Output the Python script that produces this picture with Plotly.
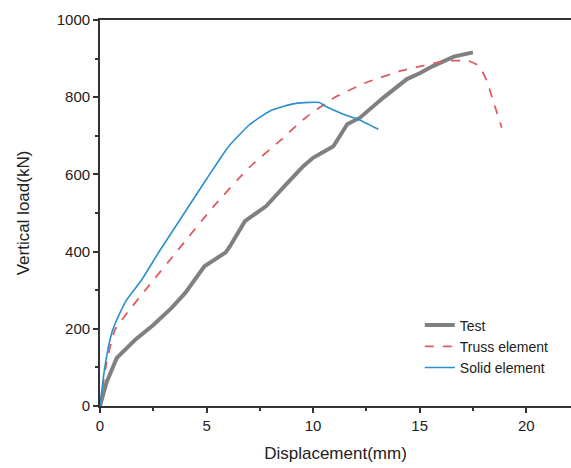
import plotly.graph_objects as go

test_x = [0, 0.3, 0.78, 1.64, 2.5, 3.36, 4.0, 4.9, 5.9, 6.1, 6.8, 7.8, 8.7, 9.55, 10.0, 10.95, 11.6, 12.2, 13.3, 14.4, 15.0, 15.6, 16.6, 17.5]
test_y = [0, 60, 124, 171, 210, 254, 293, 362, 398, 414, 479, 518, 572, 622, 643, 673, 730, 747, 799, 847, 862, 880, 905, 916]

truss_x = [0, 0.3, 0.7, 1.3, 2.3, 3.6, 5.3, 7.0, 8.4, 9.6, 11.0, 12.5, 14.1, 15.5, 16.3, 17.3, 17.8, 18.15, 18.4, 18.85]
truss_y = [0, 110, 197, 243, 312, 400, 515, 618, 685, 745, 799, 838, 868, 886, 894, 894, 880, 842, 799, 721]

solid_x = [0, 0.23, 0.55, 0.86, 1.25, 1.96, 2.74, 3.76, 5.0, 6.0, 7.0, 8.0, 9.0, 9.6, 10.3, 10.56, 11.42, 12.1, 13.06]
solid_y = [0, 102, 189, 232, 275, 327, 397, 483, 588, 670, 728, 765, 782, 786, 786, 777, 756, 743, 717]

fig = go.Figure()
fig.add_trace(go.Scatter(x=test_x, y=test_y, mode="lines", name="Test",
                         line=dict(color="#808080", width=4)))
fig.add_trace(go.Scatter(x=truss_x, y=truss_y, mode="lines", name="Truss element",
                         line=dict(color="#e05a60", width=1.8, dash="dash",
                                   shape="spline", smoothing=0.5)))
fig.add_trace(go.Scatter(x=solid_x, y=solid_y, mode="lines", name="Solid element",
                         line=dict(color="#2a8fcc", width=1.6,
                                   shape="spline", smoothing=0.5)))

font = "Liberation Sans, Arial, sans-serif"
fig.update_layout(
    width=571, height=468,
    margin=dict(l=100, r=0, t=20, b=62),
    paper_bgcolor="white", plot_bgcolor="white",
    font=dict(family=font, color="#222", size=15),
    legend=dict(x=0.679, y=0.25, xanchor="left", yanchor="top",
                bgcolor="rgba(0,0,0,0)", font=dict(size=14, family=font),
                itemwidth=30, tracegroupgap=0),
    xaxis=dict(range=[0, 22.1], tickvals=[0, 5, 10, 15, 20],
               showgrid=False, zeroline=False, showline=True, linecolor="#333",
               linewidth=1.8, mirror=True, ticks="outside", ticklen=5,
               tickcolor="#333", tickwidth=1.5, tickfont=dict(size=15),
               minor=dict(tickvals=[2.5, 7.5, 12.5, 17.5], ticks="outside", ticklen=3,
                          tickcolor="#333", tickwidth=1.5),
               title=dict(text="Displacement(mm)", font=dict(size=17), standoff=14)),
    yaxis=dict(range=[0, 1000], tickvals=[0, 200, 400, 600, 800, 1000],
               showgrid=False, zeroline=False, showline=True, linecolor="#333",
               linewidth=1.8, ticks="outside", ticklen=5, tickcolor="#333", tickwidth=1.5,
               tickfont=dict(size=15),
               minor=dict(tickvals=[100, 300, 500, 700, 900], ticks="outside", ticklen=3,
                          tickcolor="#333", tickwidth=1.5),
               title=dict(text="Vertical load(kN)", font=dict(size=17), standoff=23)),
)
fig.write_html("out.html")
